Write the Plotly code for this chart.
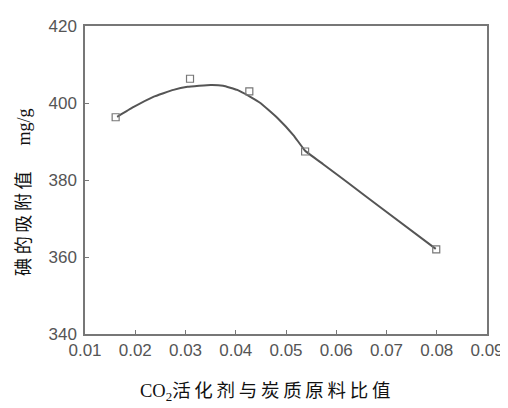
import plotly.graph_objects as go

# measured points
pt_x = [0.0161, 0.0309, 0.0427, 0.0538, 0.0799]
pt_y = [396.3, 406.3, 403.0, 387.4, 362.0]

# fitted curve
curve_x = [0.0164, 0.0196, 0.0236, 0.0276, 0.0304, 0.0350, 0.0375, 0.0403, 0.0429,
           0.0449, 0.0483, 0.0515, 0.0538, 0.0574, 0.0622, 0.0687, 0.0798]
curve_y = [396.4, 398.9, 401.6, 403.4, 404.2, 404.7, 404.5, 403.4, 401.6,
           400.0, 396.1, 391.6, 387.6, 384.1, 379.4, 373.0, 362.1]

x_ticks = [0.01, 0.02, 0.03, 0.04, 0.05, 0.06, 0.07, 0.08, 0.09]
y_ticks = [340, 360, 380, 400, 420]

fig = go.Figure()
fig.add_trace(go.Scatter(x=curve_x, y=curve_y, mode="lines",
                         line=dict(color="#555555", width=2, shape="spline", smoothing=0.3),
                         hoverinfo="skip", showlegend=False))
fig.add_trace(go.Scatter(x=pt_x, y=pt_y, mode="markers",
                         marker=dict(symbol="square-open", size=7, color="#777777",
                                     line=dict(width=1.2, color="#777777")),
                         showlegend=False))

axis_common = dict(showline=True, linecolor="#777777", linewidth=1.5, mirror=True,
                   ticks="inside", ticklen=4, tickcolor="#777777", showgrid=False,
                   zeroline=False, automargin=False,
                   tickfont=dict(family="Liberation Sans, Arial, sans-serif", size=17, color="#555555"))

fig.update_xaxes(range=[0.01, 0.09], tickvals=x_ticks,
                 ticktext=[f"{v:.2f}" for v in x_ticks], **axis_common)
fig.update_yaxes(range=[340, 420], tickvals=y_ticks, ticklabelstandoff=3, **axis_common)

fig.add_annotation(x=-0.157, y=0.461, xref="paper", yref="paper", xanchor="center", yanchor="middle",
                   text="碘\u2009的\u2009吸\u2009附\u2009值　  <span style='font-family:Liberation Serif'>mg/g</span>",
                   textangle=-90, showarrow=False,
                   font=dict(family="Noto Sans CJK SC, Liberation Serif, serif", size=18, color="#111111"))
fig.add_annotation(x=0.448, y=-0.182, xref="paper", yref="paper", xanchor="center", yanchor="middle",
                   text="<span style='font-family:Liberation Serif'>CO<sub>2</sub></span>活\u2009化\u2009剂\u2009与\u2009炭\u2009质\u2009原\u2009料\u2009比\u2009值",
                   showarrow=False,
                   font=dict(family="Noto Sans CJK SC, Liberation Serif, serif", size=18.5, color="#111111"))

# body has an 8px default margin, so the figure is sized to fit inside the 508x408 window
fig.update_layout(width=500, height=400, margin=dict(l=77, r=21, t=18, b=74),
                  plot_bgcolor="white", paper_bgcolor="white")
fig.write_html("out.html")
